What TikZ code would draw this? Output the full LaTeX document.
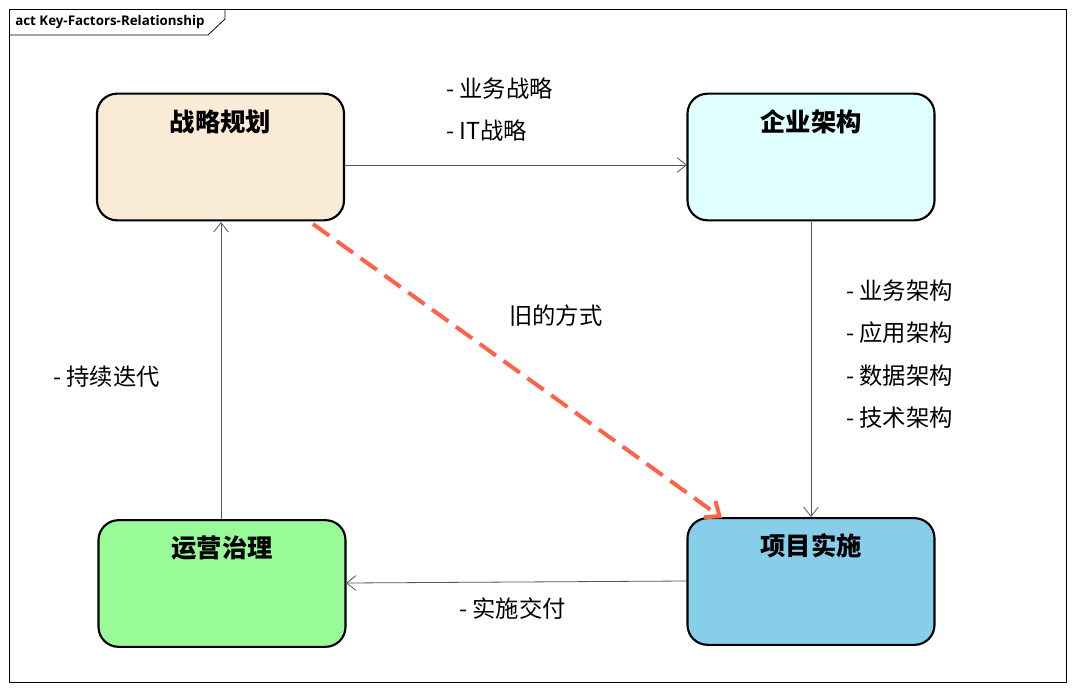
\documentclass[tikz,border=0pt]{standalone}
\usepackage{fontspec}
\setmainfont{Open Sans}
\newfontfamily\cjk{Noto Sans CJK SC}
\usetikzlibrary{arrows.meta}
\definecolor{cStrat}{HTML}{FAEBD7}
\definecolor{cEA}{HTML}{E0FFFF}
\definecolor{cOps}{HTML}{98FB98}
\definecolor{cProj}{HTML}{87CEEB}
\definecolor{cRed}{HTML}{FF6347}
\definecolor{cLine}{HTML}{555555}
\tikzset{
  box/.style={draw=black, line width=1.6pt, rounded corners=15pt, minimum width=185.25pt, minimum height=95pt, inner sep=0pt},
  boxtitle/.style={font=\cjk\bfseries\fontsize{19}{22}\selectfont},
  lbl/.style={font=\cjk\fontsize{17.5}{20}\selectfont, anchor=west, inner sep=0pt},
  conn/.style={draw=cLine, line width=0.6pt, -{Straight Barb[length=7pt,width=11pt,line width=0.6pt]}},
}
\begin{document}
\begin{tikzpicture}[x=0.75pt,y=-0.75pt]
\useasboundingbox (0,0) rectangle (1075,689);
\fill[white] (0,0) rectangle (1075,689);
% frame
\draw[black, line width=0.6pt] (9,9) rectangle (1066,682);
\draw[black, line width=0.6pt] (9,35) -- (208,35) -- (225,19) -- (225,9);
\node[anchor=west, inner sep=0pt, font=\bfseries\fontsize{10}{12}\selectfont] (tab) at (15,22) {act Key-Factors-Relationship};
% boxes
\node[box, fill=cStrat] (sp) at (220.5,157) {};
\node[box, fill=cEA] (ea) at (811,157) {};
\node[box, fill=cOps] (op) at (222,583.5) {};
\node[box, fill=cProj] (pj) at (811,581.5) {};
\node[boxtitle] at (220.5,122) {战略规划};
\node[boxtitle] at (811,122) {企业架构};
\node[boxtitle] at (222,548) {运营治理};
\node[boxtitle] at (811,546) {项目实施};
% connectors
\coordinate (spR) at (345,165);
\coordinate (eaL) at (687,165);
\draw[conn] (spR) -- (eaL);
\coordinate (eaB) at (811,222);
\coordinate (pjT) at (811,517);
\draw[conn] (eaB) -- (pjT);
\coordinate (pjL) at (687,581);
\coordinate (opR) at (346,583);
\draw[conn] (pjL) -- (opR);
\coordinate (opT) at (221,519);
\coordinate (spB) at (221,222);
\draw[conn] (opT) -- (spB);
\coordinate (dStart) at (313,224);
\coordinate (dEnd) at (722,518);
\draw[cRed, line width=3pt, dash pattern=on 15pt off 7pt, -{Straight Barb[length=9pt,width=15pt,line width=3pt]}] (dStart) -- (dEnd);
% labels
\node[lbl] (l1) at (446,89) {- 业务战略};
\node[lbl] (l2) at (446,131) {- IT战略};
\node[lbl] (l3) at (846,291) {- 业务架构};
\node[lbl] (l4) at (846,333) {- 应用架构};
\node[lbl] (l5) at (846,376) {- 数据架构};
\node[lbl] (l6) at (846,418) {- 技术架构};
\node[lbl] (l7) at (459,609) {- 实施交付};
\node[lbl] (l8) at (53,377) {- 持续迭代};
\node[lbl] (l9) at (509,316) {旧的方式};
\end{tikzpicture}
\end{document}
